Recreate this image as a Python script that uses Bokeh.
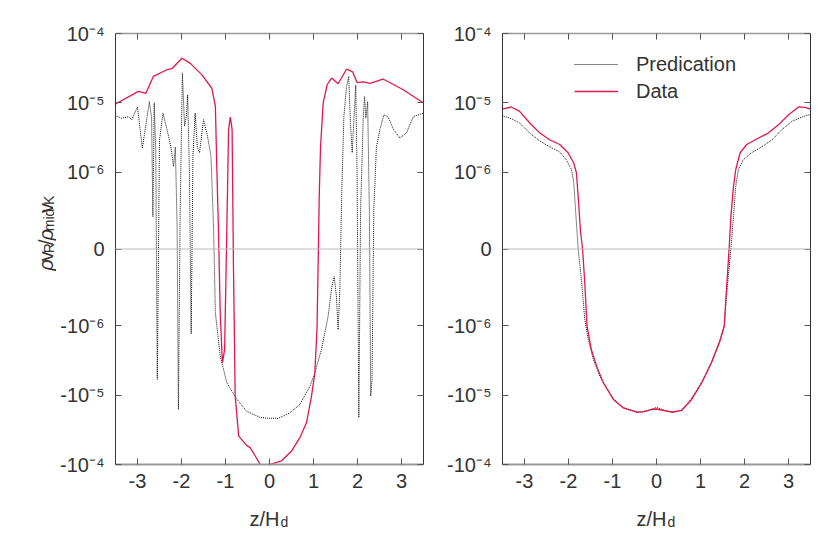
import math
import numpy as np
from bokeh.plotting import figure
from bokeh.models import (Range1d, FixedTicker, LinearAxis, Span, Label, Legend,
                          LegendItem, ColumnDataSource)
from bokeh.layouts import row
from bokeh.embed import file_html
from bokeh.resources import INLINE

# ---------------- data (values in units of 1e-6) ----------------
left_data_x = [-3.50, -2.98, -2.81, -2.64, -2.33, -2.22, -1.99, -1.80, -1.54, -1.31,
               -1.23, -1.20, -1.16, -1.12, -1.07, -1.02, -0.97, -0.93, -0.89, -0.85,
               -0.82, -0.78, -0.70, -0.52, -0.44, -0.30, -0.21, -0.11, 0.00, 0.27,
               0.50, 0.69, 0.84, 0.955, 1.03, 1.08, 1.106, 1.13, 1.16, 1.22,
               1.31, 1.41, 1.56, 1.75, 1.89, 1.99, 2.13, 2.28, 2.58, 3.04, 3.50]
left_data_y = [9.6, 14.6, 13.7, 24.0, 30.0, 31.0, 44.0, 37.0, 25.5, 16.2,
               8.9, 1.35, 0.25, -0.83, -3.4, -2.2, 0.25, 4.1, 6.2, 4.1,
               -0.18, -10.3, -39.0, -53.0, -57.0, -80.0, -100.0, -115.0, -100.0, -89.0,
               -64.0, -41.0, -25.0, -10.3, -4.8, -1.1, -0.18, 0.68, 2.34, 9.9,
               18.2, 22.7, 18.8, 30.5, 28.0, 19.6, 20.0, 19.0, 22.0, 15.4, 9.9]

left_pred_x = [-3.50, -3.36, -3.20, -3.13, -3.00, -2.89, -2.73, -2.68, -2.65, -2.62,
               -2.585, -2.55, -2.50, -2.42, -2.33, -2.24, -2.18, -2.14, -2.10, -2.07,
               -2.03, -1.98, -1.93, -1.89, -1.86, -1.82, -1.78, -1.74, -1.69, -1.64,
               -1.59, -1.50, -1.41, -1.33, -1.27, -1.23, -1.12, -0.97, -0.74, -0.52,
               -0.21, 0.00, 0.20, 0.46, 0.69, 0.92, 1.03, 1.18, 1.33, 1.42,
               1.47, 1.52, 1.56, 1.60, 1.64, 1.69, 1.75, 1.80, 1.84, 1.88,
               1.92, 1.96, 1.99, 2.03, 2.07, 2.13, 2.16, 2.19, 2.23, 2.27,
               2.30, 2.33, 2.37, 2.43, 2.51, 2.60, 2.70, 2.81, 2.96, 3.11,
               3.27, 3.50]
left_pred_y = [6.5, 6.0, 6.3, 5.7, 8.7, 2.2, 10.4, 6.0, 0.42, 10.0,
               2.0, -5.9, 2.9, 7.1, 4.1, 2.3, 1.2, 2.3, 0.3, -16.0,
               0.5, 27.0, 4.6, 6.3, 13.0, 1.0, -1.3, 1.68, 7.1, 2.3,
               1.9, 5.7, 3.3, 1.7, 0.25, -0.83, -2.7, -6.6, -11.5, -17.0,
               -21.0, -21.5, -21.5, -18.0, -13.6, -7.4, -4.8, -2.2, -0.88, -0.48,
               -0.36, -0.61, -1.13, -0.5, 0.68, 6.3, 17.0, 24.0, 5.0, 1.9,
               6.0, 18.0, 1.0, -21.0, 0.5, 6.0, 12.3, 6.0, 10.4, 0.5,
               -10.3, -6.0, 0.5, 2.3, 4.1, 6.7, 6.2, 4.2, 3.1, 3.65,
               6.3, 7.1]

right_data_x = [-3.50, -3.30, -3.11, -2.88, -2.65, -2.42, -2.20, -2.01, -1.88, -1.82,
                -1.77, -1.73, -1.68, -1.63, -1.58, -1.48, -1.36, -1.21, -0.98, -0.76,
                -0.45, -0.30, -0.11, 0.00, 0.34, 0.57, 0.80, 1.03, 1.25, 1.44,
                1.54, 1.59, 1.65, 1.69, 1.75, 1.80, 1.90, 2.05, 2.32, 2.54,
                2.77, 3.00, 3.23, 3.38, 3.50]
right_data_y = [8.1, 8.7, 7.5, 5.1, 3.65, 2.9, 2.5, 1.9, 1.35, 0.99,
                0.60, 0.25, 0.0, -0.44, -1.0, -2.2, -3.8, -6.6, -11.5, -15.2,
                -17.6, -17.4, -16.0, -15.8, -17.6, -16.5, -11.5, -6.6, -3.4, -1.66,
                -1.0, -0.53, 0.0, 0.42, 0.81, 1.08, 1.9, 2.5, 3.1, 3.65,
                4.8, 6.7, 8.7, 8.6, 8.1]

right_pred_x = [-3.50, -3.30, -3.11, -2.88, -2.65, -2.42, -2.20, -2.05, -1.93, -1.88,
                -1.83, -1.78, -1.70, -1.63, -1.55, -1.44, -1.29, -0.98, -0.76, -0.45,
                -0.20, 0.00, 0.20, 0.40, 0.60, 0.80, 1.03, 1.25, 1.44, 1.54,
                1.59, 1.69, 1.75, 1.80, 1.86, 1.97, 2.16, 2.39, 2.62, 2.85,
                3.08, 3.30, 3.50]
right_pred_y = [6.5, 5.9, 5.1, 3.65, 2.8, 2.3, 1.95, 1.5, 1.08, 0.86,
                0.42, 0.0, -0.44, -0.92, -1.58, -3.0, -5.3, -11.3, -15.0, -17.4,
                -16.8, -15.0, -16.6, -17.5, -16.2, -11.0, -6.4, -3.3, -1.6, -1.0,
                -0.61, 0.0, 0.42, 0.81, 1.08, 1.5, 1.9, 2.3, 2.9, 4.1,
                5.4, 6.2, 6.8]

x_ticks = [-3, -2, -1, 0, 1, 2, 3]
x_tick_labels = ["-3", "-2", "-1", "0", "1", "2", "3"]
y_tick_values = [-100.0, -10.0, -1.0, 0.0, 1.0, 10.0, 100.0]
y_tick_labels = ["-10⁻⁴", "-10⁻⁵", "-10⁻⁶", "0", "10⁻⁶", "10⁻⁵", "10⁻⁴"]
legend_labels = ["Predication", "Data"]

# ---------------- symmetric log transform (linthresh 1e-6) ----------------
LINTHRESH = 1.0
LINSCALE = 1.0 / (1.0 - 1.0 / 10.0)


def symlog(v):
    v = np.asarray(v, dtype=float)
    a = np.abs(v)
    lin = v * LINSCALE / LINTHRESH
    lg = np.sign(v) * (LINSCALE + np.log10(np.maximum(a, 1e-300) / LINTHRESH))
    return np.where(a <= LINTHRESH, lin, lg)


Y_MAX = float(symlog(100.0))
tick_pos = [float(t) for t in symlog(y_tick_values)]
y_overrides = {tick_pos[i]: y_tick_labels[i] for i in range(len(tick_pos))}
x_overrides = {x_ticks[i]: x_tick_labels[i] for i in range(len(x_ticks))}

FONT = "Liberation Sans"
TXT = "#333333"
RED = "#e3174a"

FRAME_W, FRAME_H = 308, 431
TOP = 33
FIG_H = 534
PX_X = FRAME_W / 7.0
PX_Y = FRAME_H / (2 * Y_MAX)


def make_fig(min_left, min_right):
    p = figure(frame_width=FRAME_W, frame_height=FRAME_H,
               x_range=Range1d(-3.5, 3.5), y_range=Range1d(-Y_MAX, Y_MAX),
               output_backend="svg", toolbar_location=None,
               min_border_left=min_left, min_border_right=min_right,
               min_border_top=TOP, min_border_bottom=FIG_H - TOP - FRAME_H,
               outline_line_color=None, background_fill_color="white",
               border_fill_color="white")
    p.xgrid.visible = False
    p.ygrid.visible = False

    xa = p.xaxis[0]
    xa.ticker = FixedTicker(ticks=x_ticks)
    xa.major_label_overrides = x_overrides
    xa.axis_line_color = "#999999"
    xa.axis_line_width = 2
    xa.major_tick_in = 6
    xa.major_tick_out = 0
    xa.major_tick_line_color = "#555555"
    xa.minor_tick_line_color = None
    xa.major_label_text_font = FONT
    xa.major_label_text_font_size = "20px"
    xa.major_label_text_color = TXT
    xa.major_label_standoff = 9

    ya = p.yaxis[0]
    ya.ticker = FixedTicker(ticks=tick_pos)
    ya.major_label_overrides = y_overrides
    ya.axis_line_color = "#333333"
    ya.axis_line_width = 1
    ya.major_tick_in = 6
    ya.major_tick_out = 0
    ya.major_tick_line_color = "#555555"
    ya.minor_tick_line_color = None
    ya.major_label_text_font = FONT
    ya.major_label_text_font_size = "20px"
    ya.major_label_text_color = TXT
    ya.major_label_standoff = 11

    top = LinearAxis(ticker=FixedTicker(ticks=x_ticks), major_label_text_color=None,
                     major_tick_in=6, major_tick_out=0, minor_tick_line_color=None,
                     axis_line_color="#999999", axis_line_width=1.5,
                     major_tick_line_color="#555555", major_label_standoff=0)
    p.add_layout(top, "above")
    right = LinearAxis(ticker=FixedTicker(ticks=tick_pos), major_label_text_color=None,
                       major_tick_in=6, major_tick_out=0, minor_tick_line_color=None,
                       axis_line_color="#333333", axis_line_width=1,
                       major_tick_line_color="#555555", major_label_standoff=0)
    p.add_layout(right, "right")

    p.add_layout(Span(location=0, dimension="width", line_color="#bbbbbb", line_width=1))

    # x-axis label  z/H_d
    xl = 10.0 / PX_X
    p.add_layout(Label(x=xl, y=-Y_MAX - 54.0 / PX_Y, text="z/H", text_align="right",
                       text_baseline="alphabetic", text_font=FONT, text_font_size="20px",
                       text_color=TXT), "below")
    p.add_layout(Label(x=xl, y=-Y_MAX - 57.0 / PX_Y, x_offset=1, text="d", text_align="left",
                       text_baseline="alphabetic", text_font=FONT, text_font_size="14px",
                       text_color=TXT), "below")
    return p


# ---------------- y-axis title strip (pixel coordinates, y up) ----------------
LBL_W = 56
p0 = figure(width=LBL_W, height=FIG_H, x_range=Range1d(0, LBL_W), y_range=Range1d(0, FIG_H),
            output_backend="svg", toolbar_location=None, min_border=0,
            x_axis_type=None, y_axis_type=None, outline_line_color=None,
            background_fill_color="white", border_fill_color="white")
p0.grid.visible = False

# ρv_R/ρ_mid v_K (rotated, composed of pieces)
pieces = [("ρ", 20, "italic", 0), ("v", 20, "normal", 0), ("R", 14, "normal", 3),
          ("/", 20, "normal", 0), ("ρ", 20, "italic", 0), ("mid", 14, "normal", 3),
          ("v", 20, "normal", 0), ("K", 14, "normal", 3)]
adv = {"ρ": 0.58, "v": 0.5, "R": 0.722, "/": 0.278, "mid": 1.611, "K": 0.667}
total = sum(adv[t] * s for t, s, _, _ in pieces)
pos = TOP + FRAME_H / 2.0 + total / 2.0   # distance from the top of the canvas
base_px = 45.0
for t, s, st, drop in pieces:
    p0.add_layout(Label(x=base_px + drop, y=FIG_H - pos, text=t, angle=math.pi / 2,
                        text_align="left", text_baseline="alphabetic", text_font=FONT,
                        text_font_size=f"{s}px", text_font_style=st, text_color=TXT))
    pos -= adv[t] * s

# ---------------- left panel ----------------
p1 = make_fig(114 - LBL_W, 9)
s1d = ColumnDataSource(dict(x=left_data_x, y=symlog(left_data_y)))
s1p = ColumnDataSource(dict(x=left_pred_x, y=symlog(left_pred_y)))
p1.line("x", "y", source=s1p, line_color="#111111", line_width=1, line_dash="1 1")
p1.line("x", "y", source=s1d, line_color=RED, line_width=1.3)

# ---------------- right panel ----------------
p2 = make_fig(70, 10)
s2d = ColumnDataSource(dict(x=right_data_x, y=symlog(right_data_y)))
s2p = ColumnDataSource(dict(x=right_pred_x, y=symlog(right_pred_y)))
r_pred = p2.line("x", "y", source=s2p, line_color="#111111", line_width=1, line_dash="1 1")
r_data = p2.line("x", "y", source=s2d, line_color=RED, line_width=1.3)

legend = Legend(items=[LegendItem(label=legend_labels[0], renderers=[r_pred]),
                       LegendItem(label=legend_labels[1], renderers=[r_data])],
                location=(72, 361), padding=0, margin=0, spacing=3,
                glyph_width=44, glyph_height=24, label_height=24, label_standoff=18,
                label_text_font=FONT, label_text_font_size="20px", label_text_color=TXT,
                border_line_color=None, background_fill_alpha=0)
p2.add_layout(legend)

layout = row(p0, p1, p2)
open("out.html", "w").write(file_html(layout, INLINE))
